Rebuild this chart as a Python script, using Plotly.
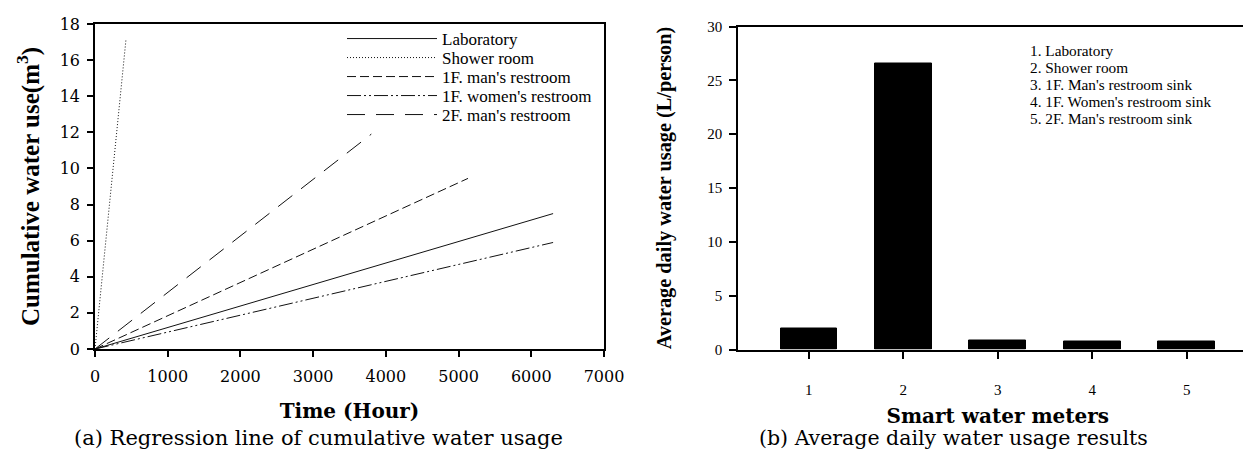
import plotly.graph_objects as go

# ---- data: left panel (regression lines, start at origin) ----
series_names = ["Laboratory", "Shower room", "1F. man's restroom",
                "1F. women's restroom", "2F. man's restroom"]
end_hours = [6300, 425, 5130, 6300, 3800]
end_use = [7.5, 17.1, 9.45, 5.9, 11.9]
dash_styles = ["solid", "1px,2px", "9px,4px", "14px,3px,2px,3px,2px,3px", "18px,11px"]

# ---- data: right panel ----
meter_ids = [1, 2, 3, 4, 5]
daily_use = [1.93, 26.6, 0.88, 0.74, 0.75]
meter_labels = ["1. Laboratory", "2. Shower room", "3. 1F. Man's restroom sink",
                "4. 1F. Women's restroom sink", "5. 2F. Man's restroom sink"]

W, H = 1251, 450
def px_x(p):
    return p / W
def px_y(p):
    return 1 - p / H

fig = go.Figure()

legend_rows = [31, 50, 69, 88, 107]
legend_keys = ["legend", "legend2", "legend3", "legend4", "legend5"]

for name, xe, ye, dash, lk in zip(series_names, end_hours, end_use, dash_styles, legend_keys):
    fig.add_trace(go.Scatter(
        x=[0, xe], y=[0, ye], mode="lines", name=name,
        line=dict(color="#111111", width=1, dash=dash),
        xaxis="x", yaxis="y", showlegend=True, legend=lk,
    ))

fig.add_trace(go.Bar(
    x=meter_ids, y=daily_use, width=0.6,
    marker=dict(color="black", line=dict(color="black", width=1)),
    xaxis="x2", yaxis="y2", showlegend=False,
))

tick_font_left = dict(family="DejaVu Serif", size=16, color="black")
tick_font_right = dict(family="Liberation Serif", size=15, color="black")
axis_common = dict(showgrid=False, zeroline=False, showline=True, mirror=True,
                   linecolor="black", linewidth=1.5, ticks="outside",
                   tickcolor="black", tickwidth=1.5, automargin=False)

layout_legends = {}
for lk, ry in zip(legend_keys, legend_rows):
    layout_legends[lk] = dict(
        x=px_x(334), y=px_y(ry), xanchor="left", yanchor="middle",
        bgcolor="rgba(0,0,0,0)", borderwidth=0,
        font=dict(family="Liberation Serif", size=17, color="black"),
        itemwidth=90)

fig.update_layout(
    width=W, height=H,
    margin=dict(l=0, r=0, t=0, b=0, autoexpand=False),
    paper_bgcolor="white", plot_bgcolor="white",
    bargap=0,
    xaxis=dict(domain=[px_x(87), px_x(596)], range=[0, 7000], dtick=1000,
               ticklen=6, tickfont=tick_font_left, ticklabelstandoff=6,
               anchor="y",
               title=dict(text="<b>Time (Hour)</b>", standoff=19,
                          font=dict(family="DejaVu Serif", size=20, color="black")),
               **axis_common),
    yaxis=dict(domain=[px_y(341), px_y(16)], range=[0, 18], dtick=2,
               ticklen=6, tickfont=tick_font_left, ticklabelstandoff=4,
               anchor="x",
               title=dict(text="<b>Cumulative water use(m<sup>3</sup>)</b>", standoff=13,
                          font=dict(family="Liberation Serif", size=25, color="black")),
               **axis_common),
    xaxis2=dict(domain=[px_x(730), px_x(1249.5)], range=[0.25, 5.75],
                tickvals=meter_ids, ticklen=8, tickfont=tick_font_right,
                ticklabelstandoff=18, anchor="y2",
                title=dict(text="<b>Smart water meters</b>", standoff=12,
                           font=dict(family="DejaVu Serif", size=20, color="black")),
                **axis_common),
    yaxis2=dict(domain=[px_y(341.5), px_y(18.5)], range=[0, 30], dtick=5,
                ticklen=7, tickfont=tick_font_right, ticklabelstandoff=4,
                anchor="x2",
                title=dict(text="<b>Average daily water usage (L/person)</b>", standoff=30,
                           font=dict(family="Liberation Serif", size=20.3, color="black")),
                **axis_common),
    **layout_legends,
)

annotations = []
row_y = [42.5, 59.5, 76.5, 93.5, 110.5]
for lab, yy in zip(meter_labels, row_y):
    annotations.append(dict(
        text=lab, x=px_x(1020), y=px_y(yy), xref="paper", yref="paper",
        xanchor="left", yanchor="middle", showarrow=False,
        font=dict(family="Liberation Serif", size=15.3, color="black")))

annotations.append(dict(
    text="(a) Regression line of cumulative water usage", x=px_x(310), y=px_y(430),
    xref="paper", yref="paper", xanchor="center", yanchor="middle", showarrow=False,
    font=dict(family="DejaVu Serif", size=21, color="black")))
annotations.append(dict(
    text="(b) Average daily water usage results", x=px_x(945), y=px_y(430),
    xref="paper", yref="paper", xanchor="center", yanchor="middle", showarrow=False,
    font=dict(family="DejaVu Serif", size=20.5, color="black")))

fig.update_layout(annotations=annotations)

fig.write_html("out.html")
